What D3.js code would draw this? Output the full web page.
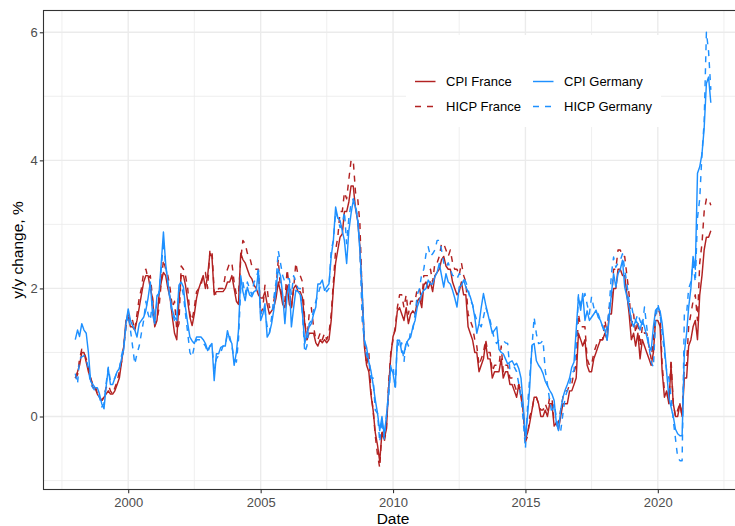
<!DOCTYPE html>
<html><head><meta charset="utf-8">
<script src="https://cdn.jsdelivr.net/npm/d3@7"></script>
<style>
body{margin:0;background:#fff}
svg{display:block}
text{font-family:"Liberation Sans",Arial,Helvetica,sans-serif}
</style>
</head><body>
<svg id="c" width="735" height="526"></svg>
<script>
// Monthly y/y inflation, Jan 1998 .. Jan 2022
const startYear = 1998;
const cpiFrance = [
0.6,0.7,0.8,1.0,1.0,0.85,0.7,0.6,0.45,0.45,0.35,0.3,
0.25,0.3,0.35,0.4,0.35,0.35,0.4,0.5,0.6,0.85,1.1,1.5,
1.55,1.4,1.4,1.35,1.5,1.7,1.9,2.1,2.2,2.2,2.0,1.85,
1.4,1.5,1.9,2.1,2.25,2.2,2.0,1.85,1.55,1.3,1.2,1.8,
2.2,2.2,2.05,1.8,1.55,1.42,1.6,1.85,2.0,2.1,2.2,2.0,
2.2,2.55,2.5,1.9,1.95,1.95,1.95,1.95,2.0,2.1,2.1,2.2,
2.0,1.8,1.75,2.55,2.45,2.4,2.3,2.2,2.15,2.05,2.0,1.9,
1.85,1.85,1.95,1.75,1.6,1.65,1.7,1.85,2.1,1.95,1.75,1.7,
2.05,1.75,1.7,2.0,2.05,1.95,1.95,1.85,1.45,1.2,1.3,1.3,
1.3,1.15,1.1,1.2,1.15,1.2,1.15,1.2,1.5,2.0,2.4,2.6,
2.8,2.85,3.2,3.2,3.35,3.6,3.6,3.25,3.05,2.65,1.9,1.1,
0.8,0.7,0.35,0.1,-0.25,-0.45,-0.7,-0.25,-0.35,-0.2,0.45,0.95,
1.25,1.35,1.65,1.7,1.6,1.5,1.7,1.45,1.6,1.65,1.6,1.8,
1.85,1.7,2.05,2.1,2.0,2.1,1.95,2.2,2.25,2.3,2.45,2.5,
2.35,2.3,2.3,2.1,2.0,1.9,1.95,2.1,1.9,1.9,1.4,1.3,
1.2,1.0,1.0,0.7,0.8,0.9,1.15,0.9,0.9,0.6,0.7,0.7,
0.7,0.9,0.6,0.7,0.7,0.5,0.5,0.4,0.3,0.5,0.3,0.1,
-0.35,-0.25,-0.1,0.1,0.3,0.3,0.2,0.0,0.0,0.1,0.0,0.2,
0.2,-0.15,-0.1,-0.2,0.0,0.2,0.2,0.2,0.4,0.4,0.5,0.6,
1.3,1.2,1.1,1.2,0.8,0.7,0.7,0.9,1.0,1.1,1.2,1.2,
1.3,1.2,1.6,1.6,2.0,2.0,2.3,2.3,2.2,2.2,1.9,1.6,
1.2,1.3,1.1,1.3,0.9,1.2,1.1,1.0,0.9,0.8,1.0,1.5,
1.5,1.4,0.7,0.3,0.4,0.2,0.8,0.2,0.0,0.0,0.2,0.0,
0.6,0.6,1.1,1.2,1.4,1.5,1.2,1.9,2.2,2.6,2.8,2.8,
2.9];
const hicpFrance = [
0.6,0.65,0.9,1.05,1.0,0.9,0.75,0.6,0.5,0.5,0.35,0.3,
0.25,0.3,0.45,0.5,0.4,0.35,0.45,0.55,0.7,0.85,1.1,1.4,
1.65,1.45,1.5,1.35,1.6,1.85,2.0,2.25,2.3,2.15,2.2,1.85,
1.45,1.5,1.7,2.1,2.45,2.3,2.2,2.0,1.7,1.8,1.35,1.45,
2.35,2.3,2.2,2.0,1.6,1.5,1.7,1.95,2.0,2.05,2.2,2.25,
2.0,2.6,2.6,1.95,1.9,2.0,2.0,2.0,2.2,2.3,2.4,2.4,
2.1,1.9,1.9,2.45,2.75,2.7,2.55,2.5,2.35,2.3,2.3,2.3,
1.6,1.7,2.05,2.0,1.7,1.75,1.8,2.0,2.45,2.0,1.85,1.8,
2.3,2.0,1.7,2.0,2.4,2.2,2.2,2.1,1.5,1.2,1.6,1.7,
1.4,1.2,1.2,1.3,1.2,1.3,1.2,1.3,1.6,2.1,2.6,2.8,
3.2,3.2,3.5,3.4,3.7,4.0,4.0,3.5,3.4,3.0,1.9,1.2,
0.8,1.0,0.4,0.1,-0.3,-0.6,-0.8,-0.2,-0.4,-0.2,0.5,1.0,
1.2,1.4,1.7,1.9,1.9,1.7,1.9,1.6,1.8,1.8,1.8,2.0,
2.0,1.8,2.2,2.2,2.2,2.3,2.1,2.4,2.4,2.5,2.7,2.7,
2.6,2.5,2.6,2.4,2.3,2.3,2.2,2.4,2.2,2.1,1.6,1.5,
1.4,1.2,1.1,0.8,0.9,1.0,1.2,1.0,1.0,0.7,0.8,0.8,
0.8,1.1,0.7,0.8,0.8,0.6,0.6,0.5,0.4,0.5,0.4,0.1,
-0.4,-0.3,0.0,0.1,0.3,0.3,0.2,0.1,0.1,0.2,0.1,0.3,
0.3,-0.1,-0.1,-0.1,0.1,0.3,0.4,0.4,0.5,0.5,0.7,0.8,
1.6,1.4,1.4,1.4,0.9,0.8,0.8,1.0,1.1,1.2,1.2,1.2,
1.5,1.3,1.7,1.8,2.3,2.3,2.6,2.6,2.5,2.5,2.2,1.9,
1.4,1.6,1.3,1.5,1.1,1.4,1.3,1.3,1.1,0.9,1.2,1.6,
1.7,1.6,0.8,0.4,0.4,0.2,0.9,0.2,0.0,0.1,0.2,0.0,
0.8,0.8,1.4,1.6,1.8,1.9,1.5,2.4,2.7,3.2,3.4,3.4,
3.3];
const cpiGermany = [
1.2,1.35,1.25,1.45,1.35,1.3,1.0,0.55,0.5,0.45,0.45,0.35,
0.2,0.12,0.45,0.75,0.5,0.5,0.6,0.7,0.75,0.9,1.05,1.45,
1.68,1.5,1.42,1.35,1.24,1.45,1.5,1.55,1.66,1.85,2.1,1.6,
1.45,1.89,1.92,2.4,2.88,2.38,2.1,1.85,1.66,1.55,1.5,2.05,
2.1,2.02,1.7,1.45,1.24,1.18,1.14,1.24,1.24,1.24,1.2,1.14,
1.03,1.1,1.14,0.56,0.98,0.98,1.08,1.1,1.1,1.34,1.2,1.14,
0.8,1.0,1.34,2.2,1.95,1.81,2.02,1.9,1.87,1.95,1.97,2.28,
1.5,1.6,1.76,1.24,1.3,1.45,1.66,2.0,2.3,2.2,1.9,1.45,
1.9,2.07,1.4,1.7,1.97,1.95,1.9,1.6,1.14,1.3,1.4,1.45,
1.6,1.71,2.07,2.07,2.13,1.97,2.02,2.07,2.5,2.75,3.27,3.1,
3.06,2.9,2.75,2.39,2.9,3.17,3.37,3.27,3.06,2.59,1.97,1.19,
1.08,0.85,0.72,0.5,0.26,0.05,-0.22,0.0,-0.3,0.0,0.4,0.77,
0.67,0.46,1.19,1.19,1.0,0.98,1.14,1.2,1.24,1.4,1.5,1.71,
1.81,1.92,1.97,2.0,2.13,2.07,2.07,2.18,2.25,2.39,2.2,2.02,
2.23,2.1,2.07,1.97,1.85,1.71,2.02,2.05,2.13,2.02,1.95,1.87,
1.75,1.55,1.3,1.45,1.7,1.92,1.75,1.6,1.45,1.3,1.35,1.4,
1.05,1.0,0.98,0.9,0.82,0.85,0.87,0.8,0.83,0.75,0.6,0.2,
-0.35,0.04,0.46,1.11,1.14,0.87,0.8,0.75,0.67,0.55,0.48,0.41,
0.35,0.25,-0.09,-0.22,0.1,0.3,0.41,0.5,0.6,0.77,0.85,1.35,
1.87,1.66,1.92,1.5,1.65,1.5,1.55,1.6,1.66,1.55,1.5,1.4,
1.35,1.19,1.55,1.92,2.23,2.02,2.23,2.3,2.44,2.02,1.87,1.71,
1.5,1.4,1.5,1.45,1.35,1.5,1.4,1.25,1.1,1.03,1.4,1.66,
1.7,1.65,1.45,1.1,0.7,0.3,0.15,0.0,-0.2,-0.27,-0.3,-0.3,
1.0,1.3,1.7,2.0,2.5,2.3,3.8,3.9,4.1,4.5,5.2,5.3,
4.9];
const hicpGermany = [
0.67,0.51,0.9,0.93,0.95,0.9,0.75,0.5,0.45,0.4,0.35,0.3,
0.15,0.2,0.5,0.77,0.55,0.55,0.6,0.7,0.75,0.95,1.1,1.4,
1.6,1.35,1.1,0.82,0.98,1.1,1.3,1.5,1.8,1.6,1.5,1.8,
1.5,1.8,1.95,2.3,2.75,2.35,2.1,1.8,1.6,1.5,1.5,2.0,
2.05,1.9,1.6,1.3,1.0,0.93,1.1,1.2,1.2,1.2,1.15,1.1,
1.0,1.1,1.1,0.75,0.9,0.95,1.0,1.1,1.1,1.3,1.25,1.1,
0.9,0.85,1.2,2.0,2.1,1.9,2.1,2.0,1.9,2.1,2.15,2.3,
1.6,1.7,1.65,1.4,1.3,1.55,1.85,2.1,2.59,2.4,2.2,2.1,
2.15,2.15,1.9,2.2,2.1,2.0,2.0,1.6,1.0,1.1,1.45,1.5,
1.66,1.8,1.9,2.02,2.02,2.0,1.95,2.0,2.6,2.75,3.2,3.1,
2.95,3.0,3.2,2.7,3.1,3.32,3.4,3.3,3.1,2.6,1.5,1.2,
0.95,0.9,0.6,0.6,0.1,0.05,-0.4,-0.05,-0.35,0.0,0.3,0.8,
0.8,0.41,1.2,1.05,1.15,0.85,1.2,1.1,1.35,1.35,1.6,1.9,
2.0,2.23,2.3,2.54,2.65,2.5,2.54,2.6,2.75,2.75,2.6,2.4,
2.33,2.4,2.3,2.2,2.2,2.15,2.23,2.2,2.15,2.1,2.0,1.81,
1.75,1.6,1.5,1.45,1.4,1.55,1.71,1.6,1.5,1.35,1.19,1.14,
1.2,1.2,1.19,1.15,1.14,0.72,0.75,0.77,0.7,0.51,0.3,-0.06,
-0.5,0.2,0.6,1.08,1.55,1.29,1.14,1.15,1.19,0.72,0.5,0.25,
0.05,0.2,0.0,-0.2,-0.23,0.04,0.3,0.4,0.5,0.67,0.72,1.1,
1.9,1.75,1.8,1.92,1.75,1.6,1.87,1.7,1.66,1.6,1.5,1.4,
1.29,1.4,1.7,2.23,2.49,2.33,2.4,2.44,2.54,2.3,2.07,1.8,
1.75,1.55,1.5,1.6,1.5,1.4,1.71,1.4,1.1,0.85,0.77,1.5,
1.76,1.6,1.3,1.0,0.72,0.6,0.3,-0.06,-0.35,-0.64,-0.69,-0.69,
1.6,1.6,2.0,2.1,2.4,2.1,3.1,3.4,4.1,4.6,6.0,5.7,
5.1];
const xTickYears = [2000, 2005, 2010, 2015, 2020];
const yTicks = [0, 2, 4, 6];
const legendLabels = ["CPI France", "CPI Germany", "HICP France", "HICP Germany"];

const colFR = "#B22222", colDE = "#1E90FF";
const LW = 1.45;
const series = [
  {name: "CPI France", values: cpiFrance, color: colFR, dash: null},
  {name: "HICP France", values: hicpFrance, color: colFR, dash: "6,6"},
  {name: "CPI Germany", values: cpiGermany, color: colDE, dash: null},
  {name: "HICP Germany", values: hicpGermany, color: colDE, dash: "6,6"}
];

const svg = d3.select("#c");
const L = 43.5, R = 742.6, T = 10.5, B = 489.5;

const dates = cpiFrance.map((_, i) => new Date(startYear, i, 1));
const [d0, d1] = d3.extent(dates);
const span = d1 - d0;
const x = d3.scaleTime()
  .domain([new Date(+d0 - 0.05 * span), new Date(+d1 + 0.05 * span)])
  .range([L, R]);
const allV = [].concat(cpiFrance, hicpFrance, cpiGermany, hicpGermany);
const [v0, v1] = d3.extent(allV);
const vs = v1 - v0;
const y = d3.scaleLinear().domain([v0 - 0.05 * vs, v1 + 0.05 * vs]).range([B, T]);

svg.append("defs").append("clipPath").attr("id", "clip")
  .append("rect").attr("x", L).attr("y", T).attr("width", R - L).attr("height", B - T);

const g = svg.append("g").attr("clip-path", "url(#clip)");
g.append("rect").attr("x", L).attr("y", T).attr("width", R - L).attr("height", B - T).attr("fill", "#fff");

// minor grid
const xMinor = [xTickYears[0] - 2.5].concat(xTickYears.map(v => v + 2.5));
const yMinor = [yTicks[0] - 1].concat(yTicks.map(v => v + 1));
const yearDate = d => new Date(Math.floor(d), Math.round((d % 1) * 12), 1);
g.selectAll(".xmin").data(xMinor).enter().append("line")
  .attr("x1", d => x(yearDate(d))).attr("x2", d => x(yearDate(d)))
  .attr("y1", T).attr("y2", B).attr("stroke", "#EBEBEB").attr("stroke-width", 0.8);
g.selectAll(".ymin").data(yMinor).enter().append("line")
  .attr("x1", L).attr("x2", R).attr("y1", d => y(d)).attr("y2", d => y(d))
  .attr("stroke", "#EBEBEB").attr("stroke-width", 0.8);
// major grid
g.selectAll(".xmaj").data(xTickYears).enter().append("line")
  .attr("x1", d => x(new Date(d, 0, 1))).attr("x2", d => x(new Date(d, 0, 1)))
  .attr("y1", T).attr("y2", B).attr("stroke", "#EBEBEB").attr("stroke-width", 1.4);
g.selectAll(".ymaj").data(yTicks).enter().append("line")
  .attr("x1", L).attr("x2", R).attr("y1", d => y(d)).attr("y2", d => y(d))
  .attr("stroke", "#EBEBEB").attr("stroke-width", 1.4);

const line = d3.line().x((d, i) => x(dates[i])).y(d => y(d));
series.forEach(s => {
  g.append("path").datum(s.values).attr("d", line)
    .attr("fill", "none").attr("stroke", s.color).attr("stroke-width", LW)
    .attr("stroke-linejoin", "round")
    .attr("stroke-dasharray", s.dash);
});

// legend
const lg = svg.append("g");
lg.append("rect").attr("x", 406).attr("y", 35).attr("width", 255).attr("height", 92).attr("fill", "#fff");
const legendItems = [
  {label: legendLabels[0], color: colFR, dash: null, kx: 415, ky: 81.5},
  {label: legendLabels[1], color: colDE, dash: null, kx: 533, ky: 81.5},
  {label: legendLabels[2], color: colFR, dash: "6,6", kx: 415, ky: 106.5},
  {label: legendLabels[3], color: colDE, dash: "6,6", kx: 533, ky: 106.5}
];
legendItems.forEach(it => {
  lg.append("line").attr("x1", it.kx).attr("x2", it.kx + 20.5).attr("y1", it.ky).attr("y2", it.ky)
    .attr("stroke", it.color).attr("stroke-width", LW).attr("stroke-dasharray", it.dash);
  lg.append("text").attr("x", it.kx + 31).attr("y", it.ky + 4.7).attr("font-size", 13)
    .attr("fill", "#000").text(it.label);
});

// panel border
svg.append("rect").attr("x", L).attr("y", T).attr("width", R - L).attr("height", B - T)
  .attr("fill", "none").attr("stroke", "#333333").attr("stroke-width", 1.1);

// axes
const xAxis = d3.axisBottom(x).tickValues(xTickYears.map(v => new Date(v, 0, 1)))
  .tickFormat(d3.timeFormat("%Y")).tickSize(3.7).tickPadding(4.4);
const xg = svg.append("g").attr("transform", `translate(0,${B})`).call(xAxis);
xg.select(".domain").remove();
xg.selectAll("line").attr("stroke", "#333333").attr("stroke-width", 1.1);
xg.selectAll("text").attr("fill", "#4D4D4D").attr("font-size", 13)
  .attr("font-family", '"Liberation Sans",Arial,Helvetica,sans-serif');

const yAxis = d3.axisLeft(y).tickValues(yTicks).tickFormat(d3.format("d")).tickSize(3.7).tickPadding(2.2);
const yg = svg.append("g").attr("transform", `translate(${L},0)`).call(yAxis);
yg.select(".domain").remove();
yg.selectAll("line").attr("stroke", "#333333").attr("stroke-width", 1.1);
yg.selectAll("text").attr("fill", "#4D4D4D").attr("font-size", 13)
  .attr("font-family", '"Liberation Sans",Arial,Helvetica,sans-serif');

svg.append("text").attr("x", (L + R) / 2).attr("y", 524).attr("text-anchor", "middle")
  .attr("font-size", 15.5).attr("fill", "#000").text("Date");
svg.append("text").attr("transform", `translate(22.5,${(T + B) / 2}) rotate(-90)`)
  .attr("text-anchor", "middle").attr("font-size", 15.5).attr("fill", "#000").text("y/y change, %");
</script>
</body></html>
